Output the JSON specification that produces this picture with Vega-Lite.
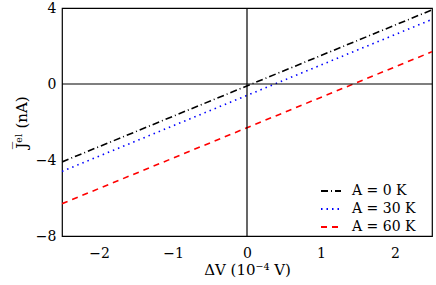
{
  "$schema": "https://vega.github.io/schema/vega-lite/v6.json",
  "width": 370,
  "height": 228,
  "autosize": "none",
  "padding": {"left": 62, "top": 8, "right": 4, "bottom": 49},
  "config": {
    "font": "DejaVu Serif",
    "view": {"stroke": "black", "strokeWidth": 1.2},
    "axis": {
      "labelFont": "DejaVu Serif",
      "titleFont": "DejaVu Serif",
      "labelFontSize": 14,
      "titleFontSize": 15,
      "titleFontWeight": "normal",
      "labelColor": "black",
      "titleColor": "black",
      "domain": false,
      "grid": false
    }
  },
  "layer": [
    {
      "data": {"values": [
        {"dv": -2.5, "j": -4.1, "s": "A = 0 K"},
        {"dv": 2.5, "j": 3.9, "s": "A = 0 K"},
        {"dv": -2.5, "j": -4.6, "s": "A = 30 K"},
        {"dv": 2.5, "j": 3.4, "s": "A = 30 K"},
        {"dv": -2.5, "j": -6.3, "s": "A = 60 K"},
        {"dv": 2.5, "j": 1.7, "s": "A = 60 K"}
      ]},
      "mark": {"type": "line", "strokeWidth": 1.6, "clip": true},
      "encoding": {
        "x": {
          "field": "dv", "type": "quantitative",
          "scale": {"domain": [-2.5, 2.5], "nice": false, "zero": false},
          "axis": {
            "orient": "bottom",
            "title": "ΔV (10⁻⁴ V)",
            "values": [-2, -1, 0, 1, 2],
            "format": "d",
            "tickSize": 0,
            "labelPadding": 10,
            "titlePadding": 2
          }
        },
        "y": {
          "field": "j", "type": "quantitative",
          "scale": {"domain": [-8, 4], "nice": false, "zero": false},
          "axis": {
            "orient": "left",
            "title": "J̅ᵉˡ (nA)",
            "values": [-8, -4, 0, 4],
            "format": "d",
            "tickSize": 0,
            "labelPadding": 6,
            "titlePadding": 6
          }
        },
        "color": {
          "field": "s", "type": "nominal",
          "scale": {"domain": ["A = 0 K", "A = 30 K", "A = 60 K"], "range": ["black", "blue", "red"]},
          "legend": {
            "title": null,
            "orient": "none",
            "legendX": 258,
            "legendY": 172,
            "symbolType": "stroke",
            "symbolSize": 400,
            "symbolStrokeWidth": 2,
            "labelFont": "DejaVu Serif",
            "labelFontSize": 14,
            "labelColor": "black",
            "rowPadding": 0,
            "labelOffset": 10
          }
        },
        "strokeDash": {
          "field": "s", "type": "nominal",
          "scale": {"domain": ["A = 0 K", "A = 30 K", "A = 60 K"], "range": [[7, 3, 1, 3], [1.5, 4], [6, 5]]},
          "legend": {
            "title": null,
            "orient": "none",
            "legendX": 258,
            "legendY": 172,
            "symbolType": "stroke",
            "symbolSize": 400,
            "symbolStrokeWidth": 2,
            "labelFont": "DejaVu Serif",
            "labelFontSize": 14,
            "labelColor": "black",
            "rowPadding": 0,
            "labelOffset": 10
          }
        }
      }
    },
    {
      "data": {"values": [{"v": 0}]},
      "mark": {"type": "rule", "color": "black", "strokeWidth": 1.2},
      "encoding": {"x": {"field": "v", "type": "quantitative"}}
    },
    {
      "data": {"values": [{"v": 0}]},
      "mark": {"type": "rule", "color": "black", "strokeWidth": 1.2},
      "encoding": {"y": {"field": "v", "type": "quantitative"}}
    }
  ]
}
